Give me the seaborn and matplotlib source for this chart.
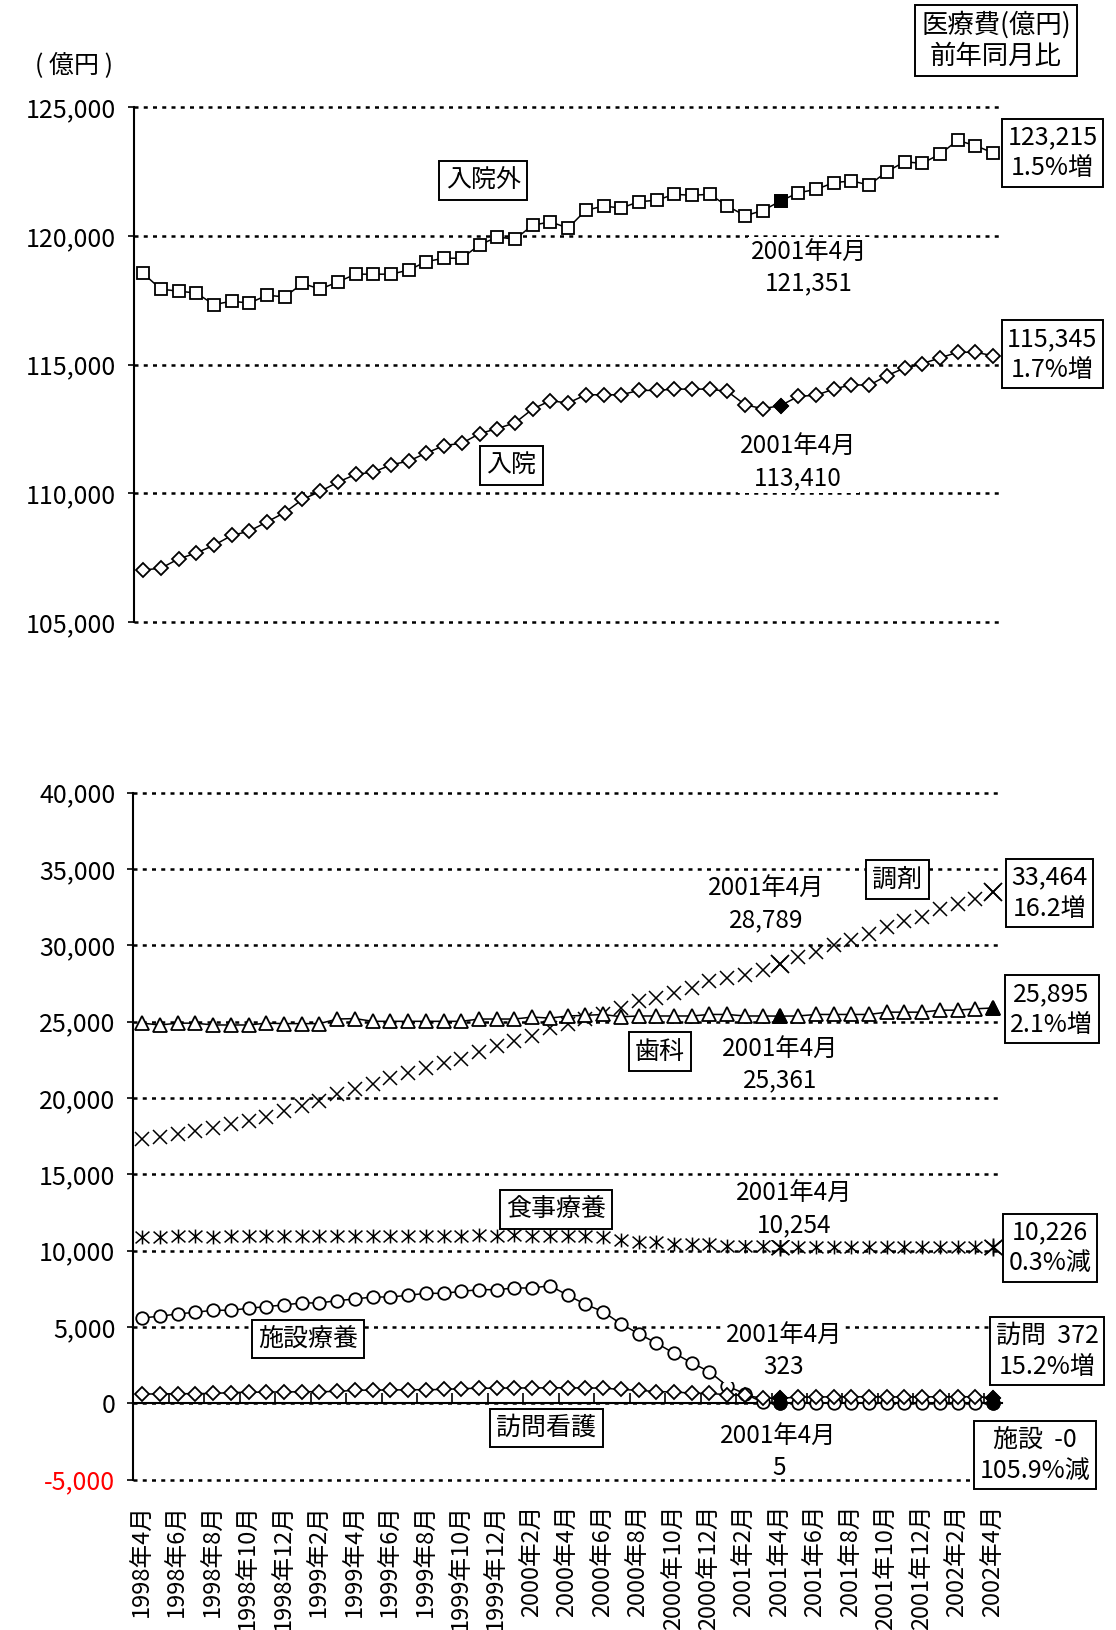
import numpy as np
import pandas as pd
import matplotlib
matplotlib.use("Agg")
import matplotlib.pyplot as plt
from matplotlib.path import Path
import seaborn as sns

# ---- data (億円, monthly, 1998年4月 .. 2002年4月) ----
months = [f"{1998 + (3 + i) // 12}年{(3 + i) % 12 + 1}月" for i in range(49)]

gairai = [118540, 117930, 117850, 117780, 117330, 117460, 117390, 117690, 117630, 118150,
          117930, 118210, 118510, 118510, 118510, 118670, 119000, 119130, 119130, 119650,
          119950, 119870, 120410, 120540, 120300, 120990, 121150, 121080, 121320, 121380,
          121610, 121570, 121610, 121150, 120780, 120980, 121351, 121670, 121800, 122060,
          122130, 121970, 122490, 122870, 122810, 123170, 123700, 123500, 123215]

nyuin = [107030, 107100, 107460, 107690, 107990, 108370, 108540, 108900, 109260, 109770,
         110080, 110440, 110740, 110830, 111110, 111260, 111570, 111860, 111950, 112320,
         112520, 112740, 113280, 113600, 113510, 113830, 113830, 113830, 114000, 114000,
         114050, 114050, 114050, 113960, 113440, 113290, 113410, 113770, 113810, 114050,
         114220, 114200, 114570, 114870, 115040, 115260, 115480, 115480, 115345]

chozai = [17300, 17420, 17640, 17850, 18010, 18290, 18510, 18770, 19170, 19500,
          19830, 20260, 20590, 20920, 21310, 21640, 21960, 22290, 22550, 22990,
          23380, 23710, 24030, 24580, 24830, 25150, 25470, 25910, 26340, 26550,
          26880, 27200, 27630, 27850, 28060, 28380, 28789, 29250, 29570, 30000,
          30320, 30710, 31190, 31570, 31830, 32370, 32690, 33020, 33464]

shika = [24900, 24780, 24900, 24900, 24780, 24780, 24780, 24900, 24870, 24870,
         24870, 25170, 25200, 25020, 25020, 25020, 25020, 25020, 25020, 25170,
         25170, 25170, 25300, 25230, 25370, 25410, 25470, 25320, 25370, 25370,
         25370, 25370, 25470, 25470, 25370, 25370, 25361, 25370, 25470, 25470,
         25470, 25470, 25620, 25620, 25620, 25750, 25750, 25840, 25895]

shokuji = [10900, 10910, 10930, 10930, 10920, 10930, 10940, 10940, 10930, 10940,
           10950, 10960, 10970, 10960, 10970, 10970, 10980, 10970, 10980, 10990,
           10980, 10990, 10980, 10970, 10960, 10930, 10860, 10700, 10560, 10540,
           10440, 10430, 10430, 10330, 10320, 10300, 10254, 10250, 10240, 10250,
           10240, 10230, 10240, 10230, 10230, 10220, 10230, 10220, 10226]

shisetsu = [5590, 5700, 5850, 5960, 6090, 6090, 6220, 6330, 6440, 6570,
            6570, 6720, 6830, 6960, 6960, 7070, 7200, 7200, 7330, 7440,
            7440, 7550, 7550, 7700, 7080, 6480, 6000, 5200, 4560, 3940,
            3280, 2650, 2060, 1130, 620, 60, 5, 4, 3, 3,
            2, 2, 2, 1, 1, 1, 0, 0, -0.295]

houmon = [600, 610, 620, 630, 640, 700, 720, 730, 740, 750,
          760, 770, 850, 860, 870, 880, 890, 900, 960, 980,
          990, 1000, 1000, 1010, 1010, 1000, 990, 900, 850, 760,
          740, 660, 640, 560, 520, 330, 323, 400, 410, 420,
          420, 430, 420, 410, 420, 420, 430, 420, 372]

top_ticks = [105000, 110000, 115000, 120000, 125000]
bottom_ticks = [-5000, 0, 5000, 10000, 15000, 20000, 25000, 30000, 35000, 40000]

BASE, LAST = 36, 48          # 2001年4月 and 2002年4月
x = np.arange(len(months))
hl = [BASE, LAST]


def yoy(series):
    return (series[LAST] / series[BASE] - 1) * 100


def trend(v):
    r = yoy(v)
    return f"{abs(r):.1f}%" + ("増" if r >= 0 else "減")


# ---- style ----
sns.set_theme(style="white", rc={
    "axes.edgecolor": "black", "text.color": "black", "axes.labelcolor": "black",
    "xtick.color": "black", "ytick.color": "black",
})
plt.rcParams["font.family"] = ["Noto Sans CJK JP", "DejaVu Sans"]
plt.rcParams["axes.unicode_minus"] = False

fig = plt.figure(figsize=(11.16, 16.30), dpi=100)
ax1 = fig.add_axes([0.1203, 0.6182, 0.8978 - 0.1203, 0.9344 - 0.6182])
ax2 = fig.add_axes([0.1195, 0.0923, 0.8978 - 0.1195, 0.5137 - 0.0923])

grid_kw = dict(color="black", linestyle=(0, (1.6, 2.1)), linewidth=1.8)


def style_axis(ax, ticks, lim):
    ax.set_xlim(-0.5, 48.5)
    ax.set_ylim(*lim)
    ax.set_yticks(ticks)
    ax.set_yticklabels([f"{t:,}" for t in ticks])
    for s in ["top", "right", "bottom"]:
        ax.spines[s].set_visible(False)
    ax.spines["left"].set_linewidth(1.5)
    ax.spines["left"].set_color("black")
    ax.tick_params(axis="y", direction="out", length=4, width=1.2, pad=9,
                   labelsize=18, left=True)
    ax.set_axisbelow(True)
    ax.yaxis.grid(True, **grid_kw)
    ax.xaxis.grid(False)
    for gl in ax.get_ygridlines():
        gl.set_clip_on(False)
    ax.set_xlabel("")
    ax.set_ylabel("")


line_kw = dict(color="black", linewidth=1.1, markerfacecolor="white",
               markeredgecolor="black", markeredgewidth=1.3)
hl_kw = dict(color="black", markerfacecolor="black", markeredgecolor="black",
             markeredgewidth=1.3, linestyle="none")
open_kw = dict(color="black", markeredgecolor="black", linestyle="none")

# ---- upper panel: 入院外 / 入院 ----
sns.lineplot(x=x, y=gairai, ax=ax1, marker="s", markersize=8.5, **line_kw)
sns.lineplot(x=x[[BASE]], y=np.array(gairai)[[BASE]], ax=ax1, marker="s",
             markersize=8.5, **hl_kw)
sns.lineplot(x=x, y=nyuin, ax=ax1, marker="D", markersize=6.8, **line_kw)
sns.lineplot(x=x[[BASE]], y=np.array(nyuin)[[BASE]], ax=ax1, marker="D",
             markersize=6.8, **hl_kw)
style_axis(ax1, top_ticks, (105000, 125000))
ax1.set_xticks([])

# ---- lower panel ----
# asterisk marker: vertical stroke crossed by an X
star = Path([(0, -1), (0, 1), (-1, -0.85), (1, 0.85), (-1, 0.85), (1, -0.85)],
            [Path.MOVETO, Path.LINETO] * 3)

sns.lineplot(x=x, y=chozai, ax=ax2, marker="x", markersize=9.5, markeredgewidth=1.1,
             **open_kw)
sns.lineplot(x=x[hl], y=np.array(chozai)[hl], ax=ax2, marker="x", markersize=12.5,
             markeredgewidth=1.3, **open_kw)

sns.lineplot(x=x, y=shika, ax=ax2, marker="^", markersize=10, **line_kw)
sns.lineplot(x=x[hl], y=np.array(shika)[hl], ax=ax2, marker="^", markersize=10, **hl_kw)

sns.lineplot(x=x, y=shokuji, ax=ax2, marker=star, markersize=10, markeredgewidth=1.1,
             **open_kw)
sns.lineplot(x=x[hl], y=np.array(shokuji)[hl], ax=ax2, marker=star, markersize=13,
             markeredgewidth=1.3, **open_kw)

sns.lineplot(x=x, y=shisetsu, ax=ax2, marker="o", markersize=9, **line_kw)
sns.lineplot(x=x[hl], y=np.array(shisetsu)[hl], ax=ax2, marker="o", markersize=9, **hl_kw)

sns.lineplot(x=x, y=houmon, ax=ax2, marker="D", markersize=6.8, **line_kw)
sns.lineplot(x=x[hl], y=np.array(houmon)[hl], ax=ax2, marker="D", markersize=6.8, **hl_kw)

style_axis(ax2, bottom_ticks, (-5000, 40000))
ax2.get_yticklabels()[0].set_color("red")
ax2.set_xticks(x[::2])
ax2.set_xticklabels(months[::2], rotation=90, fontsize=17)
ax2.tick_params(axis="x", length=0, pad=18, bottom=True)

# zero line with category ticks
lo, hi = ax2.get_ylim()
zero_axis = ax2.secondary_xaxis((0 - lo) / (hi - lo))
zero_axis.set_xticks(np.arange(-0.5, 48, 2))
zero_axis.tick_params(axis="x", direction="in", length=7, width=1.2,
                      labelbottom=False, labeltop=False)
for s in zero_axis.spines.values():
    s.set_linewidth(1.5)
    s.set_color("black")

# ---- annotations ----
note_kw = dict(ha="center", va="center", fontsize=17.5, linespacing=1.25, zorder=6,
               bbox=dict(boxstyle="square,pad=0.1", fc="white", ec="none"))
tag_kw = dict(ha="center", va="center", fontsize=18, zorder=7, clip_on=False,
              bbox=dict(boxstyle="square,pad=0.25", fc="white", ec="black", lw=1.4))
val_kw = dict(ha="center", va="center", fontsize=18, linespacing=1.25, zorder=7,
              clip_on=False,
              bbox=dict(boxstyle="square,pad=0.22", fc="white", ec="black", lw=1.4))

ax1.text(19.2, 122140, "入院外", **tag_kw)
ax1.text(37.6, 118750, f"2001年4月\n{gairai[BASE]:,}", **note_kw)
ax1.text(51.35, 123230, f"{gairai[LAST]:,}\n{trend(gairai)}", **val_kw)
ax1.text(20.8, 111090, "入院", **tag_kw)
ax1.text(37.0, 111210, f"2001年4月\n{nyuin[BASE]:,}", **note_kw)
ax1.text(51.35, 115400, f"{nyuin[LAST]:,}\n{trend(nyuin)}", **val_kw)

ax2.text(35.2, 32670, f"2001年4月\n{chozai[BASE]:,}", **note_kw)
ax2.text(42.6, 34300, "調剤", **tag_kw)
ax2.text(51.2, 33420, f"{chozai[LAST]:,}\n{abs(yoy(chozai)):.1f}増", **val_kw)
ax2.text(51.3, 25810, f"{shika[LAST]:,}\n{trend(shika)}", **val_kw)
ax2.text(29.2, 23030, "歯科", **tag_kw)
ax2.text(36.0, 22150, f"2001年4月\n{shika[BASE]:,}", **note_kw)
ax2.text(23.35, 12700, "食事療養", **tag_kw)
ax2.text(36.8, 12700, f"2001年4月\n{shokuji[BASE]:,}", **note_kw)
ax2.text(51.2, 10190, f"{shokuji[LAST]:,}\n{trend(shokuji)}", **val_kw)
ax2.text(9.35, 4210, "施設療養", **tag_kw)
ax2.text(36.2, 3400, f"2001年4月\n{houmon[BASE]:,}", **note_kw)
ax2.text(51.05, 3400, f"訪問  {houmon[LAST]:,}\n{trend(houmon)}", **val_kw)
ax2.text(22.8, -1630, "訪問看護", **tag_kw)
ax2.text(35.9, -3200, f"2001年4月\n{shisetsu[BASE]:,.0f}", ha="center", va="center",
         fontsize=17.5, linespacing=1.25, zorder=6)
ax2.text(50.35, -3400, f"施設  {shisetsu[LAST]:,.0f}\n{trend(shisetsu)}", **val_kw)

fig.text(0.0665, 0.9592, "( 億円 )", ha="center", va="center", fontsize=18)
fig.text(0.8925, 0.9751, "医療費(億円)\n前年同月比", ha="center", va="center",
         fontsize=19, linespacing=1.2,
         bbox=dict(boxstyle="square,pad=0.22", fc="white", ec="black", lw=1.4))

fig.savefig("out.png", dpi=100)
